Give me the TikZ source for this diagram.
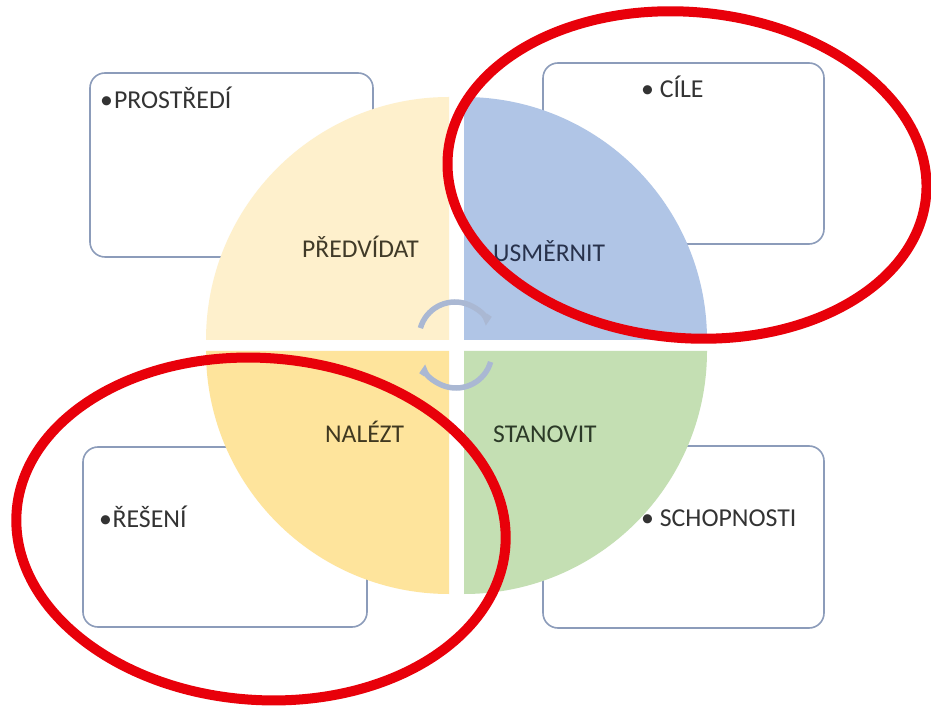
\documentclass[tikz,border=0pt]{standalone}
\usepackage{fontspec}
\setmainfont{Carlito}
\usetikzlibrary{arrows.meta}
\definecolor{qTL}{HTML}{FEF0CC}
\definecolor{qTR}{HTML}{B0C5E6}
\definecolor{qBL}{HTML}{FEE49C}
\definecolor{qBR}{HTML}{C4DFB3}
\definecolor{boxline}{HTML}{8C9CBA}
\definecolor{arcc}{HTML}{AAB8D3}
\definecolor{ringred}{HTML}{E8000A}
\definecolor{txt}{HTML}{333333}
\definecolor{tTL}{HTML}{403A28}
\definecolor{tTR}{HTML}{28324C}
\definecolor{tBL}{HTML}{403820}
\definecolor{tBR}{HTML}{2C3A28}
\tikzset{
  infobox/.style={draw=boxline, line width=1.6pt, rounded corners=15pt, fill=white, minimum width=#1, inner sep=0pt},
  boxtext/.style={anchor=base west, inner sep=0pt, text=txt, font=\fontsize{25.8}{30}\selectfont},
  qlabel/.style={anchor=base west, inner sep=0pt, font=\fontsize{25.6}{30}\selectfont},
  cyclearc/.style={draw=arcc, line width=5.5pt},
  redring/.style={draw=ringred, line width=10pt}
}
\begin{document}
\begin{tikzpicture}[x=1pt,y=1pt]
\useasboundingbox (0,0) rectangle (931,707);
\fill[white] (0,0) rectangle (931,707);
% boxes
\node[infobox=283pt, minimum height=184pt] (bTL) at (231.5,542) {};
\node[infobox=281pt, minimum height=181pt] (bTR) at (683.5,553.5) {};
\node[infobox=284pt, minimum height=180pt] (bBL) at (225,170) {};
\node[infobox=281pt, minimum height=182pt] (bBR) at (683.5,170) {};
% quadrants
\fill[qTL] (449,367) -- (206,367) arc[start angle=180, end angle=90, radius=243] -- cycle;
\fill[qTR] (464,367) -- (464,610) arc[start angle=90, end angle=0, radius=243] -- cycle;
\fill[qBL] (449,356) -- (206,356) arc[start angle=180, end angle=270, radius=243] -- cycle;
\fill[qBR] (464,356) -- (707,356) arc[start angle=0, end angle=-90, radius=243] -- cycle;
% box texts
\node[boxtext] (tProst) at (100,598) {•\hspace{1pt}PROSTŘEDÍ};
\node[boxtext] (tCile) at (641,609) {• CÍLE};
\node[boxtext] (tReseni) at (99,179) {•\hspace{0.5pt}ŘEŠENÍ};
\node[boxtext] (tSchop) at (641,180) {• SCHOPNOSTI};
% quadrant labels
\node[qlabel, text=tTL] (lPred) at (302,449) {PŘEDVÍDAT};
\node[qlabel, text=tTR] (lUsm) at (493,445) {USMĚRNIT};
\node[qlabel, text=tBL] (lNal) at (325,264) {NALÉZT};
\node[qlabel, text=tBR] (lStan) at (493,264) {STANOVIT};
% cycle arrows
\draw[cyclearc, -{Straight Barb[harpoon,length=3pt,width=9pt]}] (455,369) ++(164:36) arc[start angle=164, end angle=22, radius=36];
\draw[cyclearc, -{Straight Barb[harpoon,length=3pt,width=9pt]}] (456,355) ++(-16:36) arc[start angle=-16, end angle=-158, radius=36];
% red rings
\draw[redring, rotate around={-5:(687,532)}] (687,532) ellipse[x radius=240, y radius=163];
\draw[redring, rotate around={-4:(261,178)}] (261,178) ellipse[x radius=245, y radius=171];
\end{tikzpicture}
\end{document}
